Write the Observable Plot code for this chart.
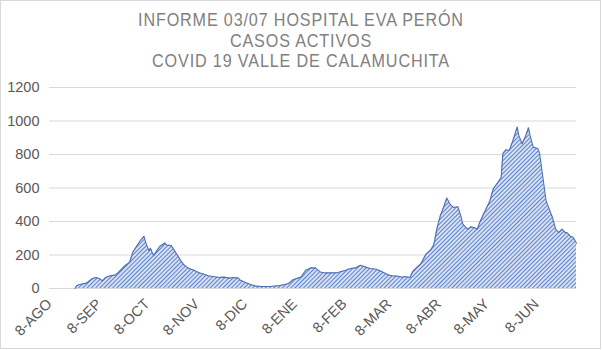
<!DOCTYPE html>
<html>
<head>
<meta charset="utf-8">
<script src="https://cdn.jsdelivr.net/npm/d3@7"></script>
<script src="https://cdn.jsdelivr.net/npm/@observablehq/plot@0.6"></script>
<style>
  html, body { margin: 0; padding: 0; background: #fff; }
  #wrap { position: relative; width: 602px; height: 350px; overflow: hidden; }
  #frame { position: absolute; left: 0; top: 0; width: 601px; height: 349px; border: 1px solid #d9d9d9; box-sizing: border-box; pointer-events: none; }
  #title { height: 76px; box-sizing: border-box; padding-top: 10px; text-align: center; color: #808080;
           font-family: 'Liberation Sans', Arial, sans-serif; font-size: 19px; line-height: 20.5px; letter-spacing: 1px; }
  #title div { transform: scaleX(0.85); transform-origin: 301px 50%; white-space: nowrap; }
  #chart svg { display: block; }
</style>
</head>
<body>
<div id="wrap">
  <div id="title"></div>
  <div id="chart"></div>
  <div id="frame"></div>
</div>
<script>
const titleLines = ["INFORME 03/07 HOSPITAL EVA PERÓN", "CASOS ACTIVOS", "COVID 19 VALLE DE CALAMUCHITA"];

const dates = [
"2020-08-24","2020-08-25","2020-08-27","2020-08-31","2020-09-02","2020-09-04","2020-09-06","2020-09-08",
"2020-09-10","2020-09-12","2020-09-15","2020-09-18","2020-09-20","2020-09-22","2020-09-24","2020-09-27",
"2020-09-29","2020-10-01","2020-10-03","2020-10-05","2020-10-06","2020-10-07","2020-10-09","2020-10-10",
"2020-10-12","2020-10-14","2020-10-16","2020-10-19","2020-10-20","2020-10-23","2020-10-25","2020-10-27",
"2020-10-29","2020-10-31","2020-11-02","2020-11-04","2020-11-06","2020-11-08","2020-11-10","2020-11-12",
"2020-11-15","2020-11-19","2020-11-22","2020-11-25","2020-11-28","2020-12-01","2020-12-04","2020-12-05",
"2020-12-08","2020-12-12","2020-12-15","2020-12-18","2020-12-24","2020-12-30","2021-01-04","2021-01-07",
"2021-01-12","2021-01-15","2021-01-18","2021-01-21","2021-01-24","2021-01-27","2021-02-01","2021-02-04",
"2021-02-09","2021-02-12","2021-02-15","2021-02-18","2021-02-21","2021-02-24","2021-02-28","2021-03-03",
"2021-03-07","2021-03-10","2021-03-13","2021-03-16","2021-03-18","2021-03-21","2021-03-23","2021-03-28",
"2021-03-31","2021-04-03","2021-04-05","2021-04-07","2021-04-09","2021-04-11","2021-04-13","2021-04-15",
"2021-04-17","2021-04-20","2021-04-22","2021-04-23","2021-04-26","2021-04-28","2021-04-30","2021-05-02",
"2021-05-04","2021-05-07","2021-05-10","2021-05-12","2021-05-15","2021-05-17","2021-05-18","2021-05-20",
"2021-05-22","2021-05-24","2021-05-25","2021-05-27","2021-05-28","2021-05-30","2021-06-01","2021-06-03",
"2021-06-04","2021-06-06","2021-06-09","2021-06-10","2021-06-12","2021-06-14","2021-06-16","2021-06-18",
"2021-06-20","2021-06-22","2021-06-24","2021-06-26","2021-06-27","2021-06-29","2021-07-01","2021-07-03"
];
const activos = [
0,16,24,32,46,60,66,60,
46,66,76,80,96,116,136,156,
216,246,276,300,312,276,226,240,
196,226,252,272,260,256,226,196,
166,140,126,116,110,100,92,86,
76,70,66,68,62,66,62,50,
38,22,14,12,12,18,28,52,
68,109,123,123,99,93,93,95,
109,119,123,139,129,119,115,103,
83,75,75,67,72,66,105,150,
204,230,264,364,434,484,540,504,
484,488,424,384,354,368,364,354,
404,464,524,594,634,664,804,828,
824,874,904,964,914,864,904,960,
914,844,834,804,664,524,474,424,
354,334,354,334,334,314,304,270
];

const xStart = "2020-08-08", xEnd = "2021-07-03";
const tickDates = ["2020-08-08","2020-09-08","2020-10-08","2020-11-08","2020-12-08","2021-01-08",
                   "2021-02-08","2021-03-08","2021-04-08","2021-05-08","2021-06-08"];
const tickLabels = ["8-AGO","8-SEP","8-OCT","8-NOV","8-DIC","8-ENE","8-FEB","8-MAR","8-ABR","8-MAY","8-JUN"];
const yTicks = [0, 200, 400, 600, 800, 1000, 1200];

document.getElementById("title").innerHTML = titleLines.map(t => `<div>${t}</div>`).join("");

const data = dates.map((d, i) => ({date: new Date(d), value: activos[i]}));
const tickTimes = tickDates.map(d => new Date(d));
const labelByTime = new Map(tickTimes.map((d, i) => [+d, tickLabels[i]]));

const chart = Plot.plot({
  width: 602, height: 274,
  marginTop: 11, marginBottom: 62, marginLeft: 49, marginRight: 26,
  style: {fontFamily: "'Liberation Sans', Arial, sans-serif", fontSize: "14.5px", color: "#595959", background: "transparent", overflow: "visible"},
  x: {type: "utc", domain: [new Date(xStart), new Date(xEnd)], ticks: tickTimes,
      tickFormat: d => labelByTime.get(+d), tickRotate: -45, tickSize: 0, tickPadding: 13, label: null},
  y: {domain: [0, 1200], ticks: yTicks, tickFormat: d => String(d), tickSize: 0, tickPadding: 10, label: null},
  marks: [
    Plot.gridY(yTicks.filter(v => v > 0), {stroke: "#d9d9d9", strokeOpacity: 1}),
    Plot.ruleY([0], {stroke: "#d9d9d9"}),
    Plot.areaY(data, {x: "date", y: "value", fill: "url(#hatch)"}),
    Plot.lineY(data, {x: "date", y: "value", stroke: "#4e6fb3", strokeWidth: 1.1})
  ]
});

const defs = d3.select(chart).insert("defs", ":first-child");
const pat = defs.append("pattern").attr("id", "hatch").attr("patternUnits", "userSpaceOnUse")
  .attr("width", 3).attr("height", 3).attr("patternTransform", "rotate(45)");
pat.append("rect").attr("width", 3).attr("height", 3).attr("fill", "#d6e0f4");
pat.append("line").attr("x1", 1.5).attr("y1", 0).attr("x2", 1.5).attr("y2", 3)
  .attr("stroke", "#5a7ec6").attr("stroke-width", 0.95);

document.getElementById("chart").appendChild(chart);
</script>
</body>
</html>
